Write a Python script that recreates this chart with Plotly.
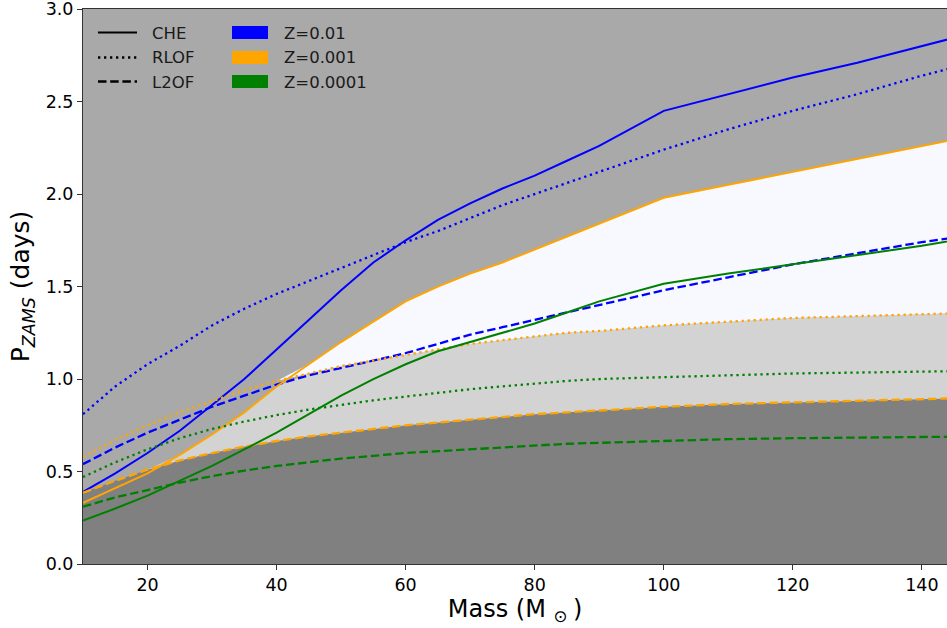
import numpy as np
import plotly.graph_objects as go

# ---- data ----
mass = [10, 15, 20, 25, 30, 35, 40, 45, 50, 55, 60, 65, 70, 75, 80, 85, 90, 100, 110, 120, 130, 140, 150]

che_z01 = [0.39, 0.49, 0.60, 0.72, 0.86, 1.00, 1.16, 1.32, 1.48, 1.63, 1.75, 1.86, 1.95, 2.03, 2.10, 2.18, 2.26, 2.45, 2.54, 2.63, 2.71, 2.80, 2.89]
rlof_z01 = [0.81, 0.96, 1.08, 1.18, 1.29, 1.38, 1.46, 1.53, 1.60, 1.67, 1.74, 1.80, 1.87, 1.94, 2.00, 2.06, 2.12, 2.24, 2.35, 2.45, 2.54, 2.64, 2.73]
l2of_z01 = [0.54, 0.63, 0.71, 0.78, 0.85, 0.91, 0.97, 1.02, 1.06, 1.10, 1.14, 1.19, 1.24, 1.28, 1.32, 1.36, 1.40, 1.48, 1.55, 1.62, 1.68, 1.74, 1.79]

che_z001 = [0.33, 0.41, 0.49, 0.59, 0.70, 0.82, 0.96, 1.08, 1.20, 1.31, 1.42, 1.50, 1.57, 1.63, 1.70, 1.77, 1.84, 1.98, 2.05, 2.12, 2.19, 2.26, 2.33]
rlof_z001 = [0.58, 0.67, 0.75, 0.82, 0.88, 0.94, 0.99, 1.03, 1.07, 1.10, 1.13, 1.16, 1.19, 1.21, 1.23, 1.25, 1.26, 1.29, 1.31, 1.33, 1.34, 1.35, 1.36]
l2of_z001 = [0.385, 0.45, 0.51, 0.56, 0.60, 0.635, 0.665, 0.69, 0.71, 0.73, 0.75, 0.765, 0.78, 0.795, 0.81, 0.82, 0.83, 0.85, 0.865, 0.875, 0.885, 0.895, 0.90]

che_z0001 = [0.235, 0.30, 0.37, 0.45, 0.53, 0.62, 0.71, 0.81, 0.91, 1.00, 1.08, 1.15, 1.20, 1.25, 1.30, 1.36, 1.42, 1.515, 1.57, 1.62, 1.67, 1.72, 1.78]
rlof_z0001 = [0.47, 0.55, 0.62, 0.68, 0.73, 0.77, 0.805, 0.835, 0.86, 0.885, 0.905, 0.925, 0.945, 0.96, 0.975, 0.99, 1.00, 1.01, 1.02, 1.03, 1.035, 1.04, 1.045]
l2of_z0001 = [0.31, 0.36, 0.40, 0.44, 0.475, 0.505, 0.53, 0.55, 0.57, 0.585, 0.60, 0.61, 0.62, 0.63, 0.64, 0.65, 0.655, 0.665, 0.675, 0.68, 0.685, 0.69, 0.69]

metallicities = ["Z=0.01", "Z=0.001", "Z=0.0001"]
colors = ["blue", "orange", "green"]
track_names = ["CHE", "RLOF", "L2OF"]

x_ticks = [20, 40, 60, 80, 100, 120, 140]
y_ticks = [0.0, 0.5, 1.0, 1.5, 2.0, 2.5, 3.0]

# ---- styles ----
FONT = "DejaVu Sans"
DASH = {"CHE": "solid", "RLOF": "2.3px,3.7px", "L2OF": "8.5px,3.7px"}
WIDTH = {"CHE": 2.0, "RLOF": 2.3, "L2OF": 2.3}

fig = go.Figure()

m = np.array(mass)
che_o = np.array(che_z001)
rlof_o = np.array(rlof_z001)
l2_o = np.array(l2of_z001)

# below L2OF (Z=0.001): dark gray
fig.add_trace(go.Scatter(x=m, y=l2_o, mode="lines", line=dict(width=0),
                         fill="tozeroy", fillcolor="#808080", showlegend=False, hoverinfo="skip"))
# between L2OF and min(RLOF, CHE): light gray
upper_lg = np.maximum(l2_o, np.minimum(rlof_o, che_o))
fig.add_trace(go.Scatter(x=m, y=l2_o, mode="lines", line=dict(width=0),
                         showlegend=False, hoverinfo="skip"))
fig.add_trace(go.Scatter(x=m, y=upper_lg, mode="lines", line=dict(width=0),
                         fill="tonexty", fillcolor="#d3d3d3", showlegend=False, hoverinfo="skip"))
# between RLOF and CHE where CHE > RLOF: ghost white
upper_gw = np.maximum(rlof_o, che_o)
fig.add_trace(go.Scatter(x=m, y=rlof_o, mode="lines", line=dict(width=0),
                         showlegend=False, hoverinfo="skip"))
fig.add_trace(go.Scatter(x=m, y=upper_gw, mode="lines", line=dict(width=0),
                         fill="tonexty", fillcolor="#f8f8ff", showlegend=False, hoverinfo="skip"))

series = {
    "Z=0.01": [che_z01, rlof_z01, l2of_z01],
    "Z=0.001": [che_z001, rlof_z001, l2of_z001],
    "Z=0.0001": [che_z0001, rlof_z0001, l2of_z0001],
}
for z, col in zip(metallicities, colors):
    for tn, ys in zip(track_names, series[z]):
        fig.add_trace(go.Scatter(x=mass, y=ys, mode="lines", name=f"{tn} {z}",
                                 line=dict(color=col, width=WIDTH[tn], dash=DASH[tn]),
                                 showlegend=False))

# ---- manual legend (paper coords computed from pixel layout) ----
W, H = 947, 628
L, R, T, B = 83, 0, 9, 64
pw, ph = W - L - R, H - T - B

def px(xp):
    return (xp - L) / pw

def py(yp):
    return 1 - (yp - T) / ph

shapes = []
annotations = []
row_y = [32.5, 57.5, 81.5]
for tn, yy in zip(track_names, row_y):
    shapes.append(dict(type="line", xref="paper", yref="paper",
                       x0=px(98), x1=px(137), y0=py(yy), y1=py(yy),
                       line=dict(color="black", width=WIDTH[tn], dash=DASH[tn])))
    annotations.append(dict(text=tn, xref="paper", yref="paper", x=px(150), y=py(yy + 0.5),
                            xanchor="left", yanchor="middle", showarrow=False,
                            font=dict(family=FONT, size=16.5, color="#1a1a1a")))
for z, col, yy in zip(metallicities, colors, row_y):
    shapes.append(dict(type="rect", xref="paper", yref="paper",
                       x0=px(232), x1=px(268), y0=py(yy - 6.5), y1=py(yy + 6.5),
                       fillcolor=col, line=dict(width=0)))
    annotations.append(dict(text=z, xref="paper", yref="paper", x=px(282), y=py(yy + 0.5),
                            xanchor="left", yanchor="middle", showarrow=False,
                            font=dict(family=FONT, size=16.5, color="#1a1a1a")))

fig.update_layout(
    width=W, height=H,
    margin=dict(l=L, r=R, t=T, b=B, autoexpand=False),
    paper_bgcolor="white",
    plot_bgcolor="#a9a9a9",
    font=dict(family=FONT, size=17, color="black"),
    shapes=shapes,
    annotations=annotations,
    showlegend=False,
    xaxis=dict(range=[10, 143.9], tickvals=x_ticks, ticks="outside", ticklen=5,
               tickcolor="#333", showgrid=False, zeroline=False,
               showline=True, linecolor="#333", linewidth=1, mirror=True,
               tickfont=dict(family=FONT, size=17.5), ticklabeloverflow="allow",
               title=dict(text="Mass (M <sub>⊙ </sub>)", font=dict(family=FONT, size=24), standoff=5),
               automargin=False),
    yaxis=dict(range=[0, 3.0005], tickvals=y_ticks, tickformat=".1f", ticks="outside", ticklen=5,
               tickcolor="#333", showgrid=False, zeroline=False,
               showline=True, linecolor="#333", linewidth=1, mirror=True,
               tickfont=dict(family=FONT, size=17.5), ticklabeloverflow="allow",
               title=dict(text="P<sub><i>ZAMS</i></sub> (days)", font=dict(family=FONT, size=25), standoff=8),
               automargin=False),
)

fig.write_html("out.html", config={"displayModeBar": False},
               post_script="document.body.style.margin='0';document.body.style.overflow='hidden';")
